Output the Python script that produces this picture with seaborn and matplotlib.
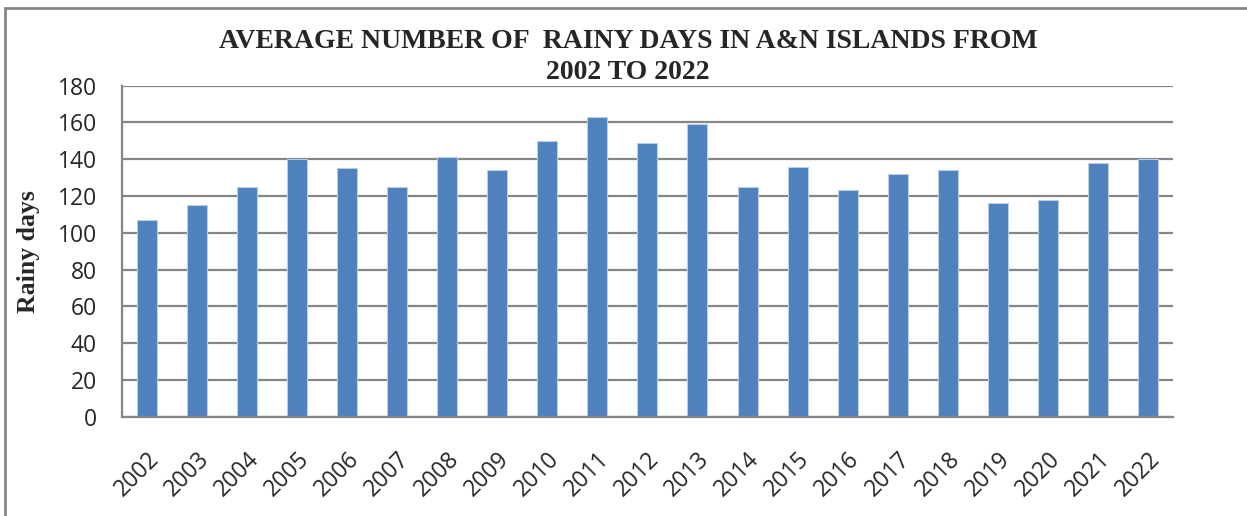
import pandas as pd
import matplotlib.pyplot as plt
import seaborn as sns
from matplotlib.patches import Rectangle

# 年份和雨天数
years = ['2002', '2003', '2004', '2005', '2006', '2007', '2008', '2009', '2010', '2011', '2012',
         '2013', '2014', '2015', '2016', '2017', '2018', '2019', '2020', '2021', '2022']
rainy_days = [107, 115, 125, 140, 135, 125, 141, 134, 150, 163, 149,
              159, 125, 136, 123, 132, 134, 116, 118, 138, 140]
y_ticks = [0, 20, 40, 60, 80, 100, 120, 140, 160, 180]

data = pd.DataFrame({'year': years, 'days': rainy_days})

sns.set_style('white')
plt.rcParams['font.family'] = ['Open Sans', 'DejaVu Sans']

fig = plt.figure(figsize=(12.47, 5.16), dpi=100)
ax = fig.add_axes([0.0978, 0.1924, 0.8428, 0.6416])

sns.barplot(data=data, x='year', y='days', color='#4F81BD', width=0.4,
            edgecolor='#B9CDE5', linewidth=0.8, saturation=1, ax=ax)

ax.set_ylim(0, 180)
ax.set_xlim(-0.5, len(years) - 0.5)
ax.set_yticks(y_ticks)
ax.yaxis.grid(True, color='#868686', linewidth=1.6)
ax.set_axisbelow(True)

for side in ['top', 'right']:
    ax.spines[side].set_visible(False)
for side in ['left', 'bottom']:
    ax.spines[side].set_color('#868686')
    ax.spines[side].set_linewidth(1.6)

ax.tick_params(axis='y', length=0, pad=18, labelsize=16.5)
ax.tick_params(axis='x', length=0, pad=22, labelsize=16.5)
plt.setp(ax.get_xticklabels(), rotation=45, ha='right', va='top', rotation_mode='anchor')

ax.set_xlabel('')
ax.set_ylabel('Rainy days', family='Liberation Serif', fontweight='bold', fontsize=18.5, labelpad=13)

fig.text(0.5036, 0.8895, 'AVERAGE NUMBER OF  RAINY DAYS IN A&N ISLANDS FROM\n2002 TO 2022',
         ha='center', va='center', family='Liberation Serif', fontweight='bold',
         fontsize=20, linespacing=1.3)

# 外框 (左边和上边)
fig.patches.append(Rectangle((5 / 1247, -0.05), 1.1, 1 - 8 / 516 + 0.05, transform=fig.transFigure,
                             fill=False, edgecolor='#868686', linewidth=2))

plt.savefig('out.png', dpi=100)
